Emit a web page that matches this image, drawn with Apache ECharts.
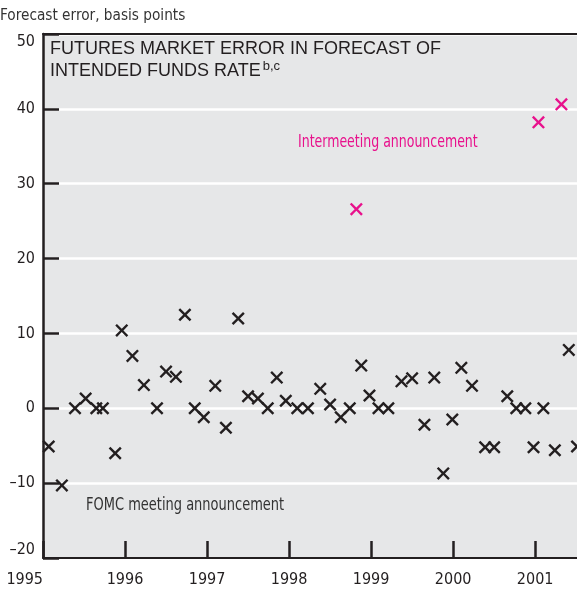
<!DOCTYPE html>
<html>
<head>
<meta charset="utf-8">
<script src="https://cdn.jsdelivr.net/npm/echarts@6/dist/echarts.min.js"></script>
<style>
  html, body { margin: 0; padding: 0; background: #fff; }
  #chart { width: 577px; height: 590px; }
</style>
</head>
<body>
<div id="chart"></div>
<script>
// decimal years and forecast errors (basis points)
const fomcDates = [
  1995.07, 1995.23, 1995.39, 1995.52, 1995.65, 1995.73, 1995.88, 1995.96,
  1996.09, 1996.23, 1996.39, 1996.50, 1996.62, 1996.73, 1996.85, 1996.96,
  1997.10, 1997.23, 1997.38, 1997.50, 1997.62, 1997.74, 1997.85, 1997.96,
  1998.10, 1998.23, 1998.38, 1998.50, 1998.63, 1998.74, 1998.88, 1998.98,
  1999.09, 1999.21, 1999.37, 1999.50, 1999.65, 1999.77, 1999.88, 1999.99,
  2000.10, 2000.23, 2000.39, 2000.50, 2000.66, 2000.77, 2000.88, 2000.98,
  2001.10, 2001.24, 2001.41, 2001.51
];
const fomcErrors = [
  -5.1, -10.3, 0, 1.3, 0, 0, -6.0, 10.4,
  7.0, 3.1, 0, 4.9, 4.2, 12.5, 0, -1.2,
  3.0, -2.6, 12.0, 1.6, 1.3, 0, 4.1, 1.0,
  0, 0, 2.6, 0.5, -1.2, 0, 5.7, 1.7,
  0, 0, 3.6, 4.0, -2.2, 4.1, -8.7, -1.5,
  5.4, 3.0, -5.2, -5.2, 1.6, 0, 0, -5.2,
  0, -5.6, 7.8, -5.1
];
const intermeetingDates = [1998.82, 2001.04, 2001.32];
const intermeetingErrors = [26.6, 38.2, 40.6];
const yearTicks = [1995, 1996, 1997, 1998, 1999, 2000, 2001];

const crossPath = 'path://M0,1.3L1.3,0L5,3.7L8.7,0L10,1.3L6.3,5L10,8.7L8.7,10L5,6.3L1.3,10L0,8.7L3.7,5Z';
const narrow = "'DejaVu Sans Condensed', 'Liberation Sans Narrow', sans-serif";
const ink = '#231f20';
const pink = '#e8118c';

const chart = echarts.init(document.getElementById('chart'));

chart.setOption({
  animation: false,
  grid: {
    left: 43, right: 0, top: 34, bottom: 32,
    show: true,
    backgroundColor: '#e6e7e8',
    borderWidth: 0
  },
  xAxis: [
    {
      type: 'value',
      min: 1995,
      max: 2001.51,
      interval: 1,
      axisLine: { onZero: false, lineStyle: { color: ink, width: 2 } },
      axisTick: {
        inside: true, length: 17, customValues: yearTicks,
        lineStyle: { color: ink, width: 2.5 }
      },
      axisLabel: {
        customValues: yearTicks,
        alignMinLabel: 'right',
        margin: 14,
        fontFamily: narrow, fontSize: 16, color: ink,
        formatter: v => String(v)
      },
      splitLine: { show: false }
    },
    {
      type: 'value',
      position: 'top',
      min: 1995,
      max: 2001.51,
      axisLine: { onZero: false, lineStyle: { color: ink, width: 2 } },
      axisTick: { show: false },
      axisLabel: { show: false },
      splitLine: { show: false }
    }
  ],
  yAxis: {
    type: 'value',
    min: -20,
    max: 50,
    interval: 10,
    axisLine: { show: true, lineStyle: { color: ink, width: 2.5 } },
    axisTick: { show: true, inside: true, length: 16, lineStyle: { color: ink, width: 2.5 } },
    axisLabel: {
      margin: 8,
      fontFamily: narrow, fontSize: 16, color: ink,
      verticalAlignMaxLabel: 'top',
      verticalAlignMinLabel: 'bottom',
      formatter: v => (v < 0 ? '\u2013' + Math.abs(v) : String(v))
    },
    splitLine: { show: true, lineStyle: { color: '#ffffff', width: 2.5 } }
  },
  graphic: [
    {
      type: 'text', left: 0, top: 8, scaleX: 0.95,
      style: { text: 'Forecast error, basis points', fontFamily: narrow, fontSize: 16, fill: '#333' }
    },
    {
      type: 'text', left: 50, top: 38,
      style: {
        text: 'FUTURES MARKET ERROR IN FORECAST OF\n{m|INTENDED FUNDS RATE}{s|b,c}',
        fontFamily: 'Liberation Sans, Arial, sans-serif', fontSize: 18, lineHeight: 22, fill: ink,
        rich: {
          m: { fontFamily: 'Liberation Sans, Arial, sans-serif', fontSize: 18, lineHeight: 22, fill: ink },
          s: { fontFamily: 'Liberation Sans, Arial, sans-serif', fontSize: 13, lineHeight: 22, fill: ink, verticalAlign: 'top', padding: [0, 0, 0, 2] }
        }
      }
    },
    {
      type: 'text', x: 298, y: 134, scaleX: 0.82,
      style: { text: 'Intermeeting announcement', fontFamily: narrow, fontSize: 17, fill: pink }
    },
    {
      type: 'text', x: 86, y: 497, scaleX: 0.85,
      style: { text: 'FOMC meeting announcement', fontFamily: narrow, fontSize: 17, fill: '#333' }
    }
  ],
  series: [
    {
      name: 'FOMC meeting announcement',
      type: 'scatter',
      symbol: crossPath,
      symbolSize: 13,
      itemStyle: { color: ink, opacity: 1 },
      data: fomcDates.map((d, i) => [d, fomcErrors[i]])
    },
    {
      name: 'Intermeeting announcement',
      type: 'scatter',
      symbol: crossPath,
      symbolSize: 13,
      itemStyle: { color: pink, opacity: 1 },
      data: intermeetingDates.map((d, i) => [d, intermeetingErrors[i]])
    }
  ]
});
</script>
</body>
</html>
